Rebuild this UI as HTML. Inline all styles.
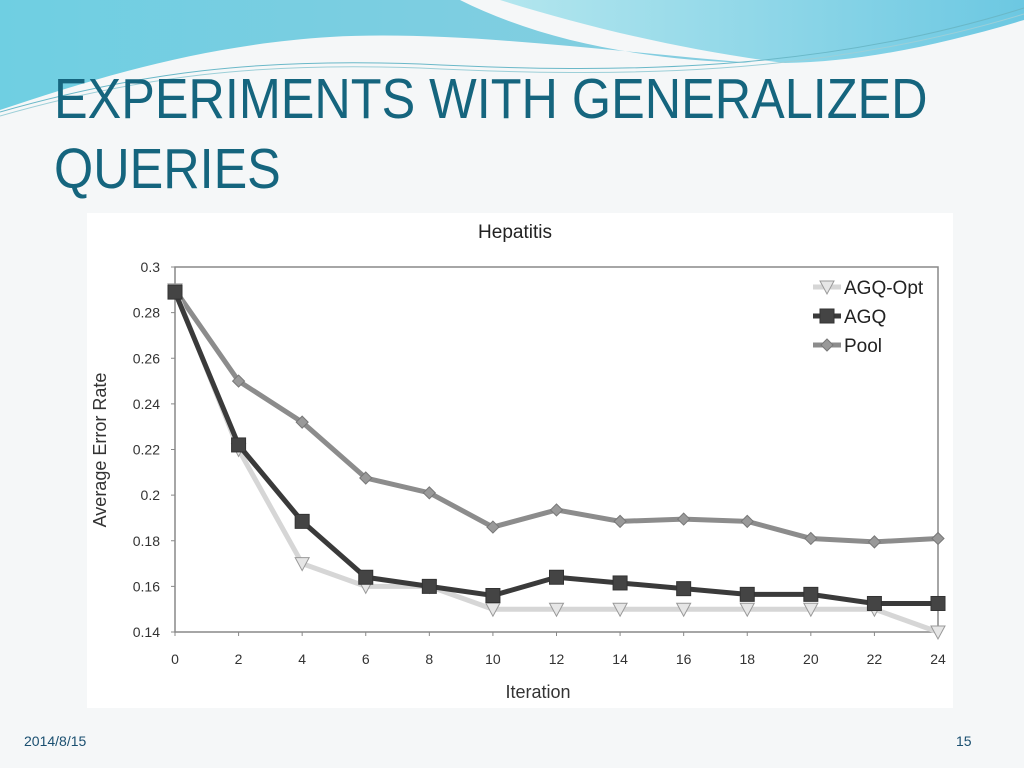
<!DOCTYPE html>
<html><head><meta charset="utf-8"><style>
body{margin:0;width:1024px;height:768px;overflow:hidden;background:#f5f7f8;font-family:"Liberation Sans",sans-serif;position:relative}
.t{position:absolute;left:54px;color:#15657e;font-size:57px;line-height:1;transform:scaleX(0.884);transform-origin:left top;white-space:nowrap}
.f{position:absolute;top:733px;font-size:14px;color:#1a4f70}
</style></head><body>
<svg width="1024" height="130" style="position:absolute;left:0;top:0">
<defs><linearGradient id="g1" x1="0" x2="1"><stop offset="0" stop-color="#6fcfe2"/><stop offset="1" stop-color="#86cde0"/></linearGradient>
<linearGradient id="g2" x1="0" x2="1"><stop offset="0" stop-color="#b3e6ee"/><stop offset="1" stop-color="#6cc8e2"/></linearGradient></defs>
<path d="M0 0H460C540 40 640 60 752 63C600 50 450 30 330 37 200 45 90 80 0 110Z" fill="url(#g1)"/>
<path d="M500 0H1024V20C940 45 860 62 785 63 680 50 580 25 500 0Z" fill="url(#g2)"/>
<path d="M0 112C140 72 260 58 420 64 620 74 820 72 1024 8" stroke="#6ab8c8" fill="none" stroke-width="1"/>
<path d="M0 116C140 76 260 62 420 68 620 78 820 76 1024 14" stroke="#9ccfd8" fill="none" stroke-width="1"/>
</svg>
<div class="t" style="top:71px">EXPERIMENTS WITH GENERALIZED</div>
<div class="t" style="top:141px">QUERIES</div>
<svg id="c" width="1024" height="768" style="position:absolute;left:0;top:0"></svg>
<div class="f" style="left:24px">2014/8/15</div>
<div class="f" style="left:956px">15</div>
<script>
const iterations=[0,2,4,6,8,10,12,14,16,18,20,22,24];
const agqOpt=[0.29,0.22,0.17,0.16,0.16,0.15,0.15,0.15,0.15,0.15,0.15,0.15,0.14];
const agq=[0.289,0.222,0.1885,0.164,0.160,0.156,0.164,0.1615,0.159,0.1565,0.1565,0.1525,0.1525];
const pool=[0.29,0.25,0.232,0.2075,0.201,0.186,0.1935,0.1885,0.1895,0.1885,0.181,0.1795,0.181];
const yTicks=[0.14,0.16,0.18,0.2,0.22,0.24,0.26,0.28,0.3];
const yTickLabels=["0.14","0.16","0.18","0.2","0.22","0.24","0.26","0.28","0.3"];
const NS="http://www.w3.org/2000/svg",svg=document.getElementById('c');
const X0=175,X1=938,Y0=632,Y1=267;
const xs=v=>X0+(v-0)/(24-0)*(X1-X0);
const ys=v=>Y0-(v-0.14)/(0.3-0.14)*(Y0-Y1);
function el(t,a,p){const e=document.createElementNS(NS,t);for(const k in a)e.setAttribute(k,a[k]);(p||svg).appendChild(e);return e;}
const bg=el('rect',{x:87,y:213,width:866,height:495,fill:'#fff'});


const title=el('text',{x:515,y:238,'font-size':19,'text-anchor':'middle',fill:'#222'});title.textContent='Hepatitis';


const frame=el('rect',{x:X0,y:Y1,width:X1-X0,height:Y0-Y1,fill:'none',stroke:'#888','stroke-width':1.5});


yTicks.forEach((v,i)=>{const t=el('text',{x:160,y:ys(v)+5,'font-size':14,'text-anchor':'end',fill:'#333'});t.textContent=yTickLabels[i];


el('line',{x1:X0-4,x2:X0,y1:ys(v),y2:ys(v),stroke:'#888'});});
iterations.forEach(v=>{const t=el('text',{x:xs(v),y:664,'font-size':14,'text-anchor':'middle',fill:'#333'});t.textContent=v;


el('line',{x1:xs(v),x2:xs(v),y1:Y0,y2:Y0+4,stroke:'#888'});});
const xt=el('text',{x:538,y:698,'font-size':18,'text-anchor':'middle',fill:'#333'});xt.textContent='Iteration';


const yt=el('text',{x:0,y:0,'font-size':18,'text-anchor':'middle',fill:'#333',transform:'translate(106,450) rotate(-90)'});yt.textContent='Average Error Rate';


function marker(type,x,y,g){
 if(type==='tri')return el('path',{d:`M${x-7} ${y-6}H${x+7}L${x} ${y+7}Z`,fill:'#e6e6e6',stroke:'#999','stroke-width':1},g);
 if(type==='sq')return el('rect',{x:x-7,y:y-7,width:14,height:14,fill:'#444',stroke:'#333'},g);
 return el('path',{d:`M${x} ${y-6}L${x+6} ${y}L${x} ${y+6}L${x-6} ${y}Z`,fill:'#999',stroke:'#777'},g);
}
const series=[{n:'pool',d:pool,c:'#8c8c8c',w:5,m:'dia'},{n:'agq-opt',d:agqOpt,c:'#d6d6d6',w:5,m:'tri'},{n:'agq',d:agq,c:'#3a3a3a',w:5,m:'sq'}];
series.forEach(s=>{const g=el('g',{});


el('polyline',{points:s.d.map((v,i)=>xs(iterations[i])+','+ys(v)).join(' '),fill:'none',stroke:s.c,'stroke-width':s.w},g);
s.d.forEach((v,i)=>marker(s.m,xs(iterations[i]),ys(v),g));});
[['tri','#d6d6d6','AGQ-Opt',287],['sq','#3a3a3a','AGQ',316],['dia','#8c8c8c','Pool',345]].forEach(l=>{const g=el('g',{});


el('line',{x1:813,x2:841,y1:l[3],y2:l[3],stroke:l[1],'stroke-width':5},g);marker(l[0],827,l[3],g);
const t=el('text',{x:844,y:l[3]+7,'font-size':19,fill:'#222'},g);t.textContent=l[2];});
</script>
</body></html>
